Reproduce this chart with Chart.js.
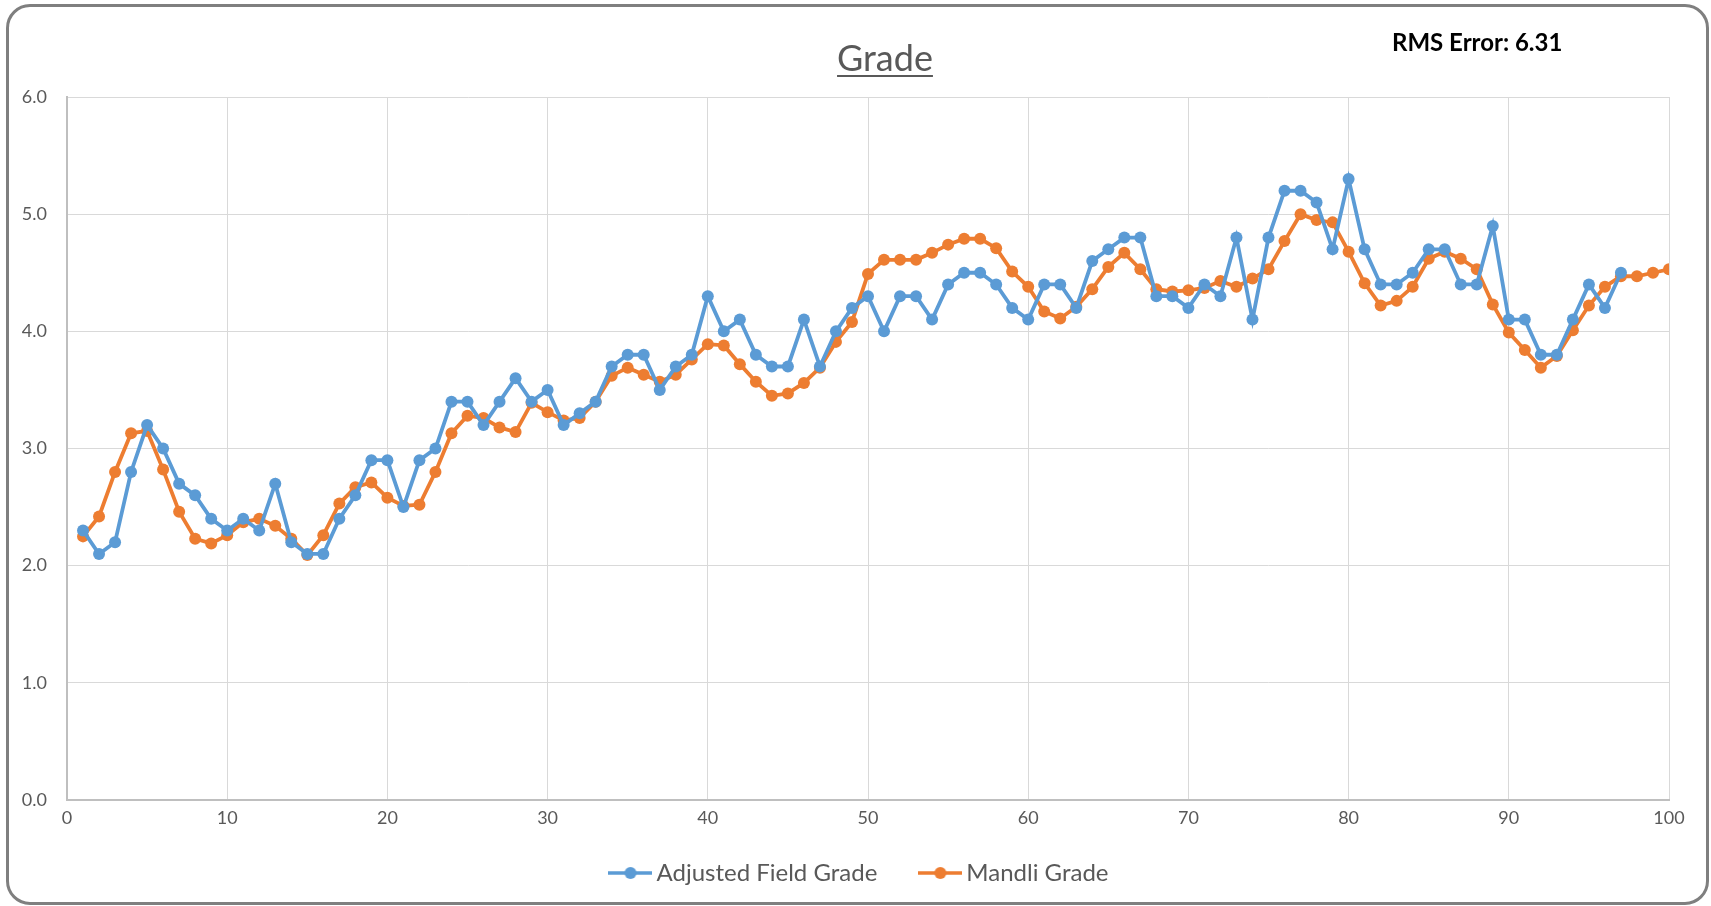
<!DOCTYPE html>
<html>
<head>
<meta charset="utf-8">
<title>Grade</title>
<script src="https://cdn.jsdelivr.net/npm/chart.js@4"></script>
<style>
  html, body { margin: 0; padding: 0; background: #fff; }
  #wrap { position: relative; width: 1711px; height: 906px; overflow: hidden; }
  #frame {
    position: absolute; left: 6px; top: 4px; width: 1703px; height: 901px;
    box-sizing: border-box; border: 3px solid #7f7f7f; border-radius: 24px;
    pointer-events: none;
  }
  #title {
    position: absolute; left: 785px; top: 39px; width: 200px; text-align: center;
    font-family: Lato, sans-serif; font-size: 36px; line-height: 36px; color: #595959;
    text-decoration: underline; text-decoration-thickness: 2px; text-underline-offset: 4px;
  }
  #rms {
    position: absolute; left: 1392px; top: 30px;
    font-family: Lato, sans-serif; font-weight: bold; font-size: 24px; line-height: 24px; color: #000;
  }
  canvas { position: absolute; left: 0; top: 0; }
</style>
</head>
<body>
<div id="wrap">
  <canvas id="gradeChart" width="1711" height="906"></canvas>
  <div id="title">Grade</div>
  <div id="rms">RMS Error: 6.31</div>
  <div id="frame"></div>
</div>
<script>
// sample number along the x axis
const sampleNo = [
  1, 2, 3, 4, 5, 6, 7, 8, 9, 10, 11, 12, 13, 14, 15, 16, 17, 18, 19, 20,
  21, 22, 23, 24, 25, 26, 27, 28, 29, 30, 31, 32, 33, 34, 35, 36, 37, 38, 39, 40,
  41, 42, 43, 44, 45, 46, 47, 48, 49, 50, 51, 52, 53, 54, 55, 56, 57, 58, 59, 60,
  61, 62, 63, 64, 65, 66, 67, 68, 69, 70, 71, 72, 73, 74, 75, 76, 77, 78, 79, 80,
  81, 82, 83, 84, 85, 86, 87, 88, 89, 90, 91, 92, 93, 94, 95, 96, 97, 98, 99, 100
];

const fieldGrade = [
  2.3, 2.1, 2.2, 2.8, 3.2, 3.0, 2.7, 2.6, 2.4, 2.3,
  2.4, 2.3, 2.7, 2.2, 2.1, 2.1, 2.4, 2.6, 2.9, 2.9,
  2.5, 2.9, 3.0, 3.4, 3.4, 3.2, 3.4, 3.6, 3.4, 3.5,
  3.2, 3.3, 3.4, 3.7, 3.8, 3.8, 3.5, 3.7, 3.8, 4.3,
  4.0, 4.1, 3.8, 3.7, 3.7, 4.1, 3.7, 4.0, 4.2, 4.3,
  4.0, 4.3, 4.3, 4.1, 4.4, 4.5, 4.5, 4.4, 4.2, 4.1,
  4.4, 4.4, 4.2, 4.6, 4.7, 4.8, 4.8, 4.3, 4.3, 4.2,
  4.4, 4.3, 4.8, 4.1, 4.8, 5.2, 5.2, 5.1, 4.7, 5.3,
  4.7, 4.4, 4.4, 4.5, 4.7, 4.7, 4.4, 4.4, 4.9, 4.1,
  4.1, 3.8, 3.8, 4.1, 4.4, 4.2, 4.5
];

const mandliGrade = [
  2.25, 2.42, 2.80, 3.13, 3.15, 2.82, 2.46, 2.23, 2.19, 2.26,
  2.37, 2.40, 2.34, 2.23, 2.09, 2.26, 2.53, 2.67, 2.71, 2.58,
  2.51, 2.52, 2.80, 3.13, 3.28, 3.26, 3.18, 3.14, 3.39, 3.31,
  3.24, 3.26, 3.40, 3.62, 3.69, 3.63, 3.57, 3.63, 3.76, 3.89,
  3.88, 3.72, 3.57, 3.45, 3.47, 3.56, 3.69, 3.91, 4.08, 4.49,
  4.61, 4.61, 4.61, 4.67, 4.74, 4.79, 4.79, 4.71, 4.51, 4.38,
  4.17, 4.11, 4.21, 4.36, 4.55, 4.67, 4.53, 4.36, 4.34, 4.35,
  4.37, 4.43, 4.38, 4.45, 4.53, 4.77, 5.00, 4.95, 4.93, 4.68,
  4.41, 4.22, 4.26, 4.38, 4.62, 4.68, 4.62, 4.53, 4.23, 3.99,
  3.84, 3.69, 3.79, 4.01, 4.22, 4.38, 4.47, 4.47, 4.50, 4.53
];

const xTicks = [0, 10, 20, 30, 40, 50, 60, 70, 80, 90, 100];
const yTicks = [0, 1, 2, 3, 4, 5, 6];

const BLUE = "#5b9bd5";
const ORANGE = "#ed7d31";
const TEXT = "#595959";

function toPoints(values) {
  return values.map((v, i) => ({ x: sampleNo[i], y: v }));
}

// little "line with a dot" icon for the legend, like the spreadsheet legend
function legendIcon(color) {
  const c = document.createElement("canvas");
  c.width = 44;
  c.height = 14;
  const g = c.getContext("2d");
  g.strokeStyle = color;
  g.lineWidth = 3.5;
  g.beginPath();
  g.moveTo(0, 7);
  g.lineTo(44, 7);
  g.stroke();
  g.fillStyle = color;
  g.beginPath();
  g.arc(22, 7, 6, 0, Math.PI * 2);
  g.fill();
  return c;
}
const icons = [legendIcon(BLUE), legendIcon(ORANGE)];

// the legend padding also sets the gap between items, which makes the box too tall;
// move the row right (original sits off-centre) and up to where it belongs
const legendShift = {
  id: "legendShift",
  afterLayout(chart) {
    const lg = chart.legend;
    if (!lg) return;
    lg.left += 28;
    lg.right += 28;
    lg.top -= 23;
    lg.bottom -= 23;
  }
};

const ctx = document.getElementById("gradeChart").getContext("2d");
new Chart(ctx, {
  type: "line",
  data: {
    datasets: [
      {
        label: "Adjusted Field Grade",
        data: toPoints(fieldGrade),
        borderColor: BLUE,
        backgroundColor: BLUE,
        borderWidth: 3.8,
        pointRadius: 6,
        pointBorderWidth: 0,
        pointBackgroundColor: BLUE,
        tension: 0
      },
      {
        label: "Mandli Grade",
        data: toPoints(mandliGrade),
        borderColor: ORANGE,
        backgroundColor: ORANGE,
        borderWidth: 3.8,
        pointRadius: 6,
        pointBorderWidth: 0,
        pointBackgroundColor: ORANGE,
        tension: 0
      }
    ]
  },
  options: {
    responsive: false,
    animation: false,
    devicePixelRatio: 1,
    layout: { padding: { top: 97, right: 42, bottom: -12, left: 0 } },
    scales: {
      x: {
        type: "linear",
        min: 0,
        max: 100,
        afterBuildTicks: axis => { axis.ticks = xTicks.map(v => ({ value: v })); },
        afterFit: axis => { axis.height = 35; },
        grid: { color: "#d9d9d9", lineWidth: 1, drawTicks: false },
        border: { color: "#bfbfbf", width: 2 },
        ticks: {
          padding: 7,
          color: TEXT,
          font: { family: "Lato", size: 18 },
          maxRotation: 0
        }
      },
      y: {
        min: 0,
        max: 6,
        afterBuildTicks: axis => { axis.ticks = yTicks.map(v => ({ value: v })); },
        afterFit: axis => { axis.width = 67; },
        grid: { color: "#d9d9d9", lineWidth: 1, drawTicks: false },
        border: { color: "#bfbfbf", width: 2 },
        ticks: {
          padding: 20,
          color: TEXT,
          font: { family: "Lato", size: 18 },
          callback: v => v.toFixed(1)
        }
      }
    },
    plugins: {
      title: { display: false },
      tooltip: { enabled: false },
      legend: {
        position: "bottom",
        labels: {
          usePointStyle: true,
          pointStyleWidth: 28,
          boxHeight: 14,
          padding: 49,
          color: TEXT,
          font: { family: "Lato", size: 24 },
          generateLabels: chart => {
            const items = Chart.defaults.plugins.legend.labels.generateLabels(chart);
            items.forEach((item, i) => { item.pointStyle = icons[i]; });
            return items;
          }
        }
      }
    }
  },
  plugins: [legendShift]
});
</script>
</body>
</html>
